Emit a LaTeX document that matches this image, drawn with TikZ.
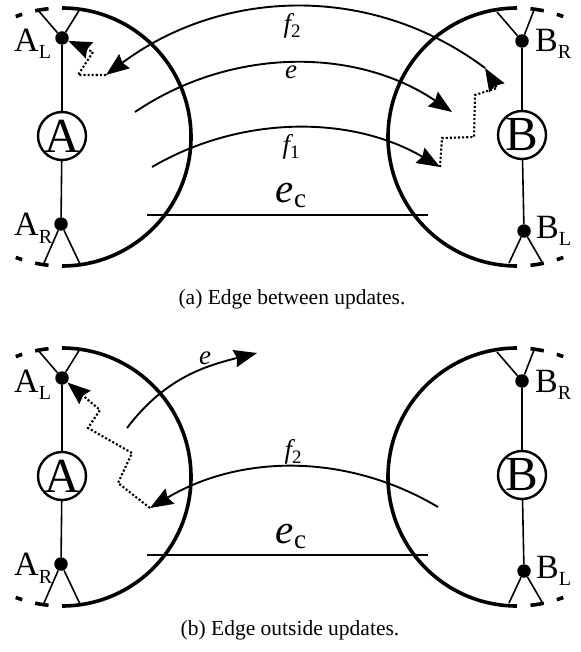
\documentclass[tikz,border=0pt]{standalone}
\usepackage{fontspec}
\setmainfont{Liberation Serif}
\usetikzlibrary{arrows.meta}

\tikzset{
  rim/.style={line width=3.6pt},
  rimdash/.style={line width=3.6pt, dash pattern=on 13.5pt off 13.5pt, dash phase=13.5pt},
  wire/.style={line width=1.6pt},
  tipstyle/.style={-{Stealth[length=23pt,width=17.5pt,inset=2.5pt]}},
  flow/.style={line width=1.9pt, tipstyle},
  chase/.style={line width=2.1pt, dash pattern=on 2.1pt off 2pt, tipstyle},
  junction/.style={circle, fill, inner sep=0pt, minimum size=13.5pt},
  site/.style={circle, draw, line width=2.4pt, inner sep=0pt, minimum size=48pt,
    font=\fontsize{49}{49}\selectfont},
  endlabel/.style={anchor=base west, inner sep=0pt, font=\fontsize{34}{34}\selectfont},
  edgelabel/.style={inner sep=0pt, font=\fontsize{27}{27}\selectfont\itshape},
  bigedge/.style={anchor=base, inner sep=0pt, font=\fontsize{41}{41}\selectfont},
  caption/.style={anchor=base, inner sep=0pt, font=\fontsize{21.5}{21.5}\selectfont},
  % left update region with its endpoint A
  sideA/.pic={
    \draw[rim] (0,-129) arc[start angle=270, end angle=450, radius=129];
    \draw[rimdash] (0,-129) arc[start angle=270, end angle=249, radius=129];
    \draw[rimdash] (0,129) arc[start angle=90, end angle=111, radius=129];
    \node[junction] (-L) at (0,-99) {};
    \node[site] (-C) at (0,-1) {A};
    \node[junction] (-R) at (-1,87) {};
    \draw[wire] (-L) -- (-C) (-C) -- (-R);
    \draw[wire] (-25,-128) -- (-L) -- (18,-128);
    \draw[wire] (-18,126) -- (-R) -- (18,127);
    \node[endlabel] (-Lname) at (-48,-85) {A\raisebox{-7pt}{\fontsize{20}{20}\selectfont L}};
    \node[endlabel] (-Rname) at (-48,98) {A\raisebox{-8pt}{\fontsize{20}{20}\selectfont R}};
  },
  % right update region with its endpoint B
  sideB/.pic={
    \draw[rim] (0,-129) arc[start angle=270, end angle=90, radius=129];
    \draw[rimdash] (0,-129) arc[start angle=270, end angle=291, radius=129];
    \draw[rimdash] (0,129) arc[start angle=90, end angle=69, radius=129];
    \node[junction] (-R) at (5,-96) {};
    \node[site] (-C) at (5,-2) {B};
    \node[junction] (-L) at (7,94) {};
    \draw[wire] (-R) -- (-C) (-C) -- (-L);
    \draw[wire] (-20,-125) -- (-R) -- (17,-127);
    \draw[wire] (-8,126) -- (-L) -- (25,125);
    \node[endlabel] (-Rname) at (18,-85) {B\raisebox{-7pt}{\fontsize{20}{20}\selectfont R}};
    \node[endlabel] (-Lname) at (19,101) {B\raisebox{-7pt}{\fontsize{20}{20}\selectfont L}};
  }
}

\begin{document}
\begin{tikzpicture}[x=1pt, y=-1pt]
\useasboundingbox (0,0) rectangle (580,652);

% ---------------- (a) edge between updates ----------------
\pic (ua) at (62,137) {sideA};
\pic (ub) at (517,137) {sideB};

\coordinate (f2a-s) at (485,68);
\coordinate (f2a-e) at (106,75);
\coordinate (ea-s) at (135,112);
\coordinate (ea-e) at (452,112);
\coordinate (f1a-s) at (152,167);
\coordinate (f1a-e) at (440,167);
\coordinate (eca-s) at (147,215);
\coordinate (eca-e) at (428,215);

\draw[flow] (f2a-s) .. controls (370,-18) and (221,-11) .. (f2a-e);
\draw[flow] (ea-s) .. controls (231,47) and (356,47) .. (ea-e);
\draw[flow] (f1a-s) .. controls (241,115) and (351,115) .. (f1a-e);
\draw[line width=1.9pt] (eca-s) -- (eca-e);

\draw[chase] (f2a-e) -- (78,75) -- (93,52) -- (ua-L);
\draw[chase] (f1a-e) -- (442,138) -- (474,137) -- (475,95) -- (497,88) -- (f2a-s);

\node[edgelabel] (lf2a) at (292,26) {f\raisebox{-5pt}{\upshape\fontsize{19}{19}\selectfont 2}};
\node[edgelabel] (lea) at (291,72) {e};
\node[edgelabel] (lf1a) at (291,147) {f\raisebox{-5pt}{\upshape\fontsize{19}{19}\selectfont 1}};
\node[bigedge] (leca) at (291,203) {\itshape e\upshape\raisebox{-5pt}{\fontsize{27}{27}\selectfont c}};

\node[caption] (capa) at (292,304) {(a) Edge between updates.};

% ---------------- (b) edge outside updates ----------------
\pic (va) at (62,477) {sideA};
\pic (vb) at (517,477) {sideB};

\coordinate (eb-s) at (127,428);
\coordinate (eb-e) at (257,353);
\coordinate (f2b-s) at (438,507);
\coordinate (f2b-e) at (150,508);
\coordinate (ecb-s) at (147,555);
\coordinate (ecb-e) at (428,555);

\draw[flow] (eb-s) .. controls (165,378) and (205,366) .. (eb-e);
\draw[flow] (f2b-s) .. controls (347,453) and (241,454) .. (f2b-e);
\draw[line width=1.9pt] (ecb-s) -- (ecb-e);

\draw[chase] (f2b-e) -- (118,483) -- (132,453) -- (88,428) -- (100,410) -- (va-L);

\node[edgelabel] (leb) at (205,358) {e};
\node[edgelabel] (lf2b) at (293,452) {f\raisebox{-5pt}{\upshape\fontsize{19}{19}\selectfont 2}};
\node[bigedge] (lecb) at (291,543) {\itshape e\upshape\raisebox{-5pt}{\fontsize{27}{27}\selectfont c}};

\node[caption] (capb) at (290,635) {(b) Edge outside updates.};
\end{tikzpicture}
\end{document}
